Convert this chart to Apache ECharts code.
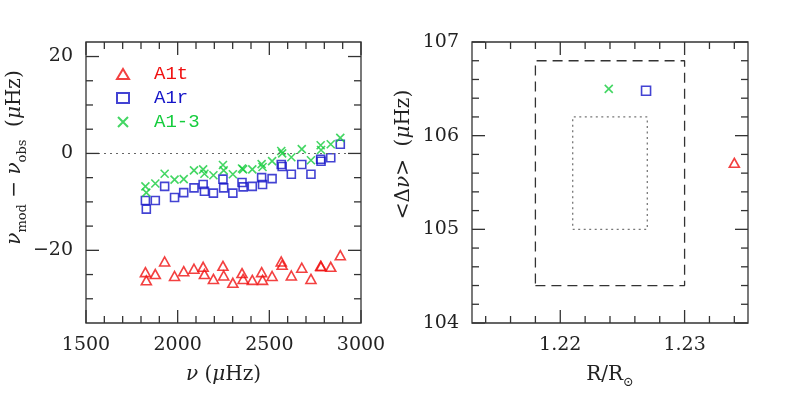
<!DOCTYPE html>
<html>
<head>
<meta charset="utf-8">
<script src="https://cdn.jsdelivr.net/npm/echarts@6/dist/echarts.min.js"></script>
<style>
  html, body { margin: 0; background: #fff; }
  #chart { width: 789px; height: 415px; }
</style>
</head>
<body>
<div id="chart"></div>
<script>
// left panel: frequency residuals nu_mod - nu_obs
const freq = [1824, 1829, 1878, 1929, 1983, 2033, 2089, 2139, 2146, 2195, 2247, 2251, 2301, 2351,
  2357, 2407, 2458, 2463, 2515, 2565, 2570, 2620, 2677, 2727, 2780, 2782, 2835, 2887];
const resA1t = [-24.5, -26.2, -24.9, -22.3, -25.3, -24.3, -23.8, -23.4, -24.9, -25.9, -23.2, -25.2, -26.7, -24.7,
  -25.9, -26.1, -24.5, -26.1, -25.3, -22.3, -23.0, -25.2, -23.6, -25.9, -23.2, -23.3, -23.4, -21.0];
const resA1r = [-9.7, -11.5, -9.7, -6.8, -9.1, -8.1, -7.1, -6.4, -7.8, -8.2, -5.3, -7.1, -8.2, -6.0,
  -6.9, -6.8, -5.0, -6.4, -5.2, -2.3, -2.7, -4.3, -2.3, -4.3, -1.2, -1.6, -0.9, 1.9];
const resA13 = [-6.8, -8.1, -6.2, -4.2, -5.4, -5.3, -3.5, -3.3, -4.2, -4.5, -2.4, -3.5, -4.3, -3.1,
  -3.3, -3.3, -2.2, -2.8, -1.6, 0.5, 0.0, -0.8, 0.9, -1.4, 1.7, 0.7, 1.9, 3.2];

// right panel: radius vs mean large separation
const ptA1t = [1.2340, 105.71];
const ptA1r = [1.2269, 106.48];
const ptA13 = [1.2239, 106.50];
const dashedBoxR = [1.218, 1.230];
const dashedBoxDnu = [104.4, 106.8];
const dottedBoxR = [1.221, 1.227];
const dottedBoxDnu = [105.0, 106.2];

// ticks
const leftXMajor = [1500, 2000, 2500, 3000];
const leftXMinor = [1600, 1700, 1800, 1900, 2100, 2200, 2300, 2400, 2600, 2700, 2800, 2900];
const leftYMajor = [-20, 0, 20];
const leftYMinor = [-30, -25, -15, -10, -5, 5, 10, 15];
const rightXMajor = [1.22, 1.23];
const rightXMinor = [1.214, 1.216, 1.218, 1.222, 1.224, 1.226, 1.228, 1.232, 1.234];
const rightYMajor = [104, 105, 106, 107];
const rightYMinor = [104.2, 104.4, 104.6, 104.8, 105.2, 105.4, 105.6, 105.8, 106.2, 106.4, 106.6, 106.8];

const RED = '#f01010', BLUE = '#1414c8', GREEN = '#14cc3c';
const INK = '#222';
const SERIF = 'DejaVu Serif';
const LABEL_SIZE = 19;
const MAJOR = 13, MINOR = 7;   // tick lengths, px

const LX = [1500, 3000], LY = [-35, 23];
const RX = [1.2129, 1.2351], RY = [104, 107];

// axis carrying labels / name only (frame comes from the grid border)
function labelAxis(grid, pos, min, max, vals, extra) {
  return Object.assign({
    type: 'value', gridIndex: grid, position: pos, min: min, max: max,
    axisLine: { show: false, onZero: false }, splitLine: { show: false },
    axisTick: { show: false },
    axisLabel: {
      show: true, customValues: vals, margin: 13,
      fontFamily: SERIF, fontSize: LABEL_SIZE, color: INK,
      formatter: v => String(v).replace('-', '\u2212')
    }
  }, extra || {});
}

function box(xs, ys) {
  return [[xs[0], ys[0]], [xs[1], ys[0]], [xs[1], ys[1]], [xs[0], ys[1]], [xs[0], ys[0]]];
}

const nameStyle = {
  fontFamily: SERIF, fontSize: 20, color: INK, lineHeight: 28,
  rich: {
    i: { fontFamily: SERIF, fontSize: 20, fontStyle: 'italic', color: INK, lineHeight: 28 },
    s: { fontFamily: SERIF, fontSize: 13, color: INK, lineHeight: 13, verticalAlign: 'bottom' }
  }
};

const xAxes = [
  labelAxis(0, 'bottom', LX[0], LX[1], leftXMajor, {
    name: '{i|ν} ({i|μ}Hz)', nameLocation: 'middle', nameGap: 38, nameTextStyle: nameStyle
  }),
  labelAxis(1, 'bottom', RX[0], RX[1], rightXMajor, {
    name: 'R/R{s|⊙}', nameLocation: 'middle', nameGap: 38, nameTextStyle: nameStyle
  })
];

const yAxes = [
  labelAxis(0, 'left', LY[0], LY[1], leftYMajor, {
    name: '{i|ν}{s|mod} − {i|ν}{s|obs}  ({i|μ}Hz)', nameLocation: 'middle', nameGap: 42, nameRotate: 90,
    nameTextStyle: Object.assign({}, nameStyle, { padding: [0, 0, 0, 50] })
  }),
  labelAxis(1, 'left', RY[0], RY[1], rightYMajor, {
    name: '<Δ{i|ν}>  ({i|μ}Hz)', nameLocation: 'middle', nameGap: 54, nameRotate: 90,
    nameTextStyle: Object.assign({}, nameStyle, { padding: [0, 0, 0, 56] })
  })
];

const CROSS = 'path://M0,0L10,10M10,0L0,10';
const styleA1t = { symbol: 'triangle', symbolSize: [10, 9], itemStyle: { color: 'transparent', borderColor: RED, borderWidth: 1.6 } };
const styleA1r = { symbol: 'rect', symbolSize: 8, itemStyle: { color: 'transparent', borderColor: BLUE, borderWidth: 1.6 } };
const styleA13 = { symbol: CROSS, symbolSize: 8, itemStyle: { color: 'transparent', borderColor: GREEN, borderWidth: 1.6 } };

const pairs = ys => freq.map((f, i) => [f, ys[i]]);

const series = [
  Object.assign({ name: 'A1t', type: 'scatter', xAxisIndex: 0, yAxisIndex: 0, data: pairs(resA1t) }, styleA1t),
  Object.assign({
    name: 'A1r', type: 'scatter', xAxisIndex: 0, yAxisIndex: 0, data: pairs(resA1r),
    markLine: {
      silent: true, symbol: 'none', label: { show: false },
      lineStyle: { type: [2, 4], color: '#666', width: 1.2 },
      data: [{ yAxis: 0 }]
    }
  }, styleA1r),
  Object.assign({ name: 'A1-3', type: 'scatter', xAxisIndex: 0, yAxisIndex: 0, data: pairs(resA13) }, styleA13),

  { type: 'line', xAxisIndex: 1, yAxisIndex: 1, data: box(dashedBoxR, dashedBoxDnu), showSymbol: false, silent: true,
    lineStyle: { color: '#333', width: 1.3, type: [10, 6] } },
  { type: 'line', xAxisIndex: 1, yAxisIndex: 1, data: box(dottedBoxR, dottedBoxDnu), showSymbol: false, silent: true,
    lineStyle: { color: '#777', width: 1.3, type: [2, 3.5] } },
  Object.assign({ name: 'A1t', type: 'scatter', xAxisIndex: 1, yAxisIndex: 1, data: [ptA1t] }, styleA1t),
  Object.assign({ name: 'A1r', type: 'scatter', xAxisIndex: 1, yAxisIndex: 1, data: [ptA1r] }, styleA1r, { symbolSize: 9 }),
  Object.assign({ name: 'A1-3', type: 'scatter', xAxisIndex: 1, yAxisIndex: 1, data: [ptA13] }, styleA13)
];

const chart = echarts.init(document.getElementById('chart'), null, { renderer: 'canvas' });
chart.setOption({
  animation: false,
  backgroundColor: '#fff',
  grid: [
    { left: 86, top: 42, width: 275, height: 281, show: true, borderColor: '#333', borderWidth: 1.3 },
    { left: 472, top: 42, width: 276, height: 281, show: true, borderColor: '#333', borderWidth: 1.3 }
  ],
  legend: {
    orient: 'vertical', left: 111, top: 59, itemWidth: 12, itemHeight: 10, itemGap: 4,
    selectedMode: false,
    textStyle: { fontFamily: 'Liberation Mono', fontSize: 19, lineHeight: 20, padding: [0, 0, 0, 20] },
    data: [
      { name: 'A1t', textStyle: { color: RED } },
      { name: 'A1r', textStyle: { color: BLUE } },
      { name: 'A1-3', textStyle: { color: GREEN } }
    ]
  },
  xAxis: xAxes,
  yAxis: yAxes,
  series: series
});

// inward ticks on all four sides, placed through each grid's own scales
const seg = (x1, y1, x2, y2) => ({
  type: 'line', silent: true, z: 100,
  shape: { x1: x1, y1: y1, x2: x2, y2: y2 },
  style: { stroke: '#333', lineWidth: 1.3 }
});
const tickEls = [];
function addTicks(gi, dim, vals, len, xr, yr) {
  const lo = chart.convertToPixel({ gridIndex: gi }, [xr[0], yr[0]]);
  const hi = chart.convertToPixel({ gridIndex: gi }, [xr[1], yr[1]]);
  vals.forEach(v => {
    if (dim === 'x') {
      const px = chart.convertToPixel({ gridIndex: gi }, [v, yr[0]])[0];
      tickEls.push(seg(px, lo[1], px, lo[1] - len), seg(px, hi[1], px, hi[1] + len));
    } else {
      const py = chart.convertToPixel({ gridIndex: gi }, [xr[0], v])[1];
      tickEls.push(seg(lo[0], py, lo[0] + len, py), seg(hi[0], py, hi[0] - len, py));
    }
  });
}
addTicks(0, 'x', leftXMajor, MAJOR, LX, LY);
addTicks(0, 'x', leftXMinor, MINOR, LX, LY);
addTicks(0, 'y', leftYMajor, MAJOR, LX, LY);
addTicks(0, 'y', leftYMinor, MINOR, LX, LY);
addTicks(1, 'x', rightXMajor, MAJOR, RX, RY);
addTicks(1, 'x', rightXMinor, MINOR, RX, RY);
addTicks(1, 'y', rightYMajor, MAJOR, RX, RY);
addTicks(1, 'y', rightYMinor, MINOR, RX, RY);
chart.setOption({ graphic: tickEls });
</script>
</body>
</html>
